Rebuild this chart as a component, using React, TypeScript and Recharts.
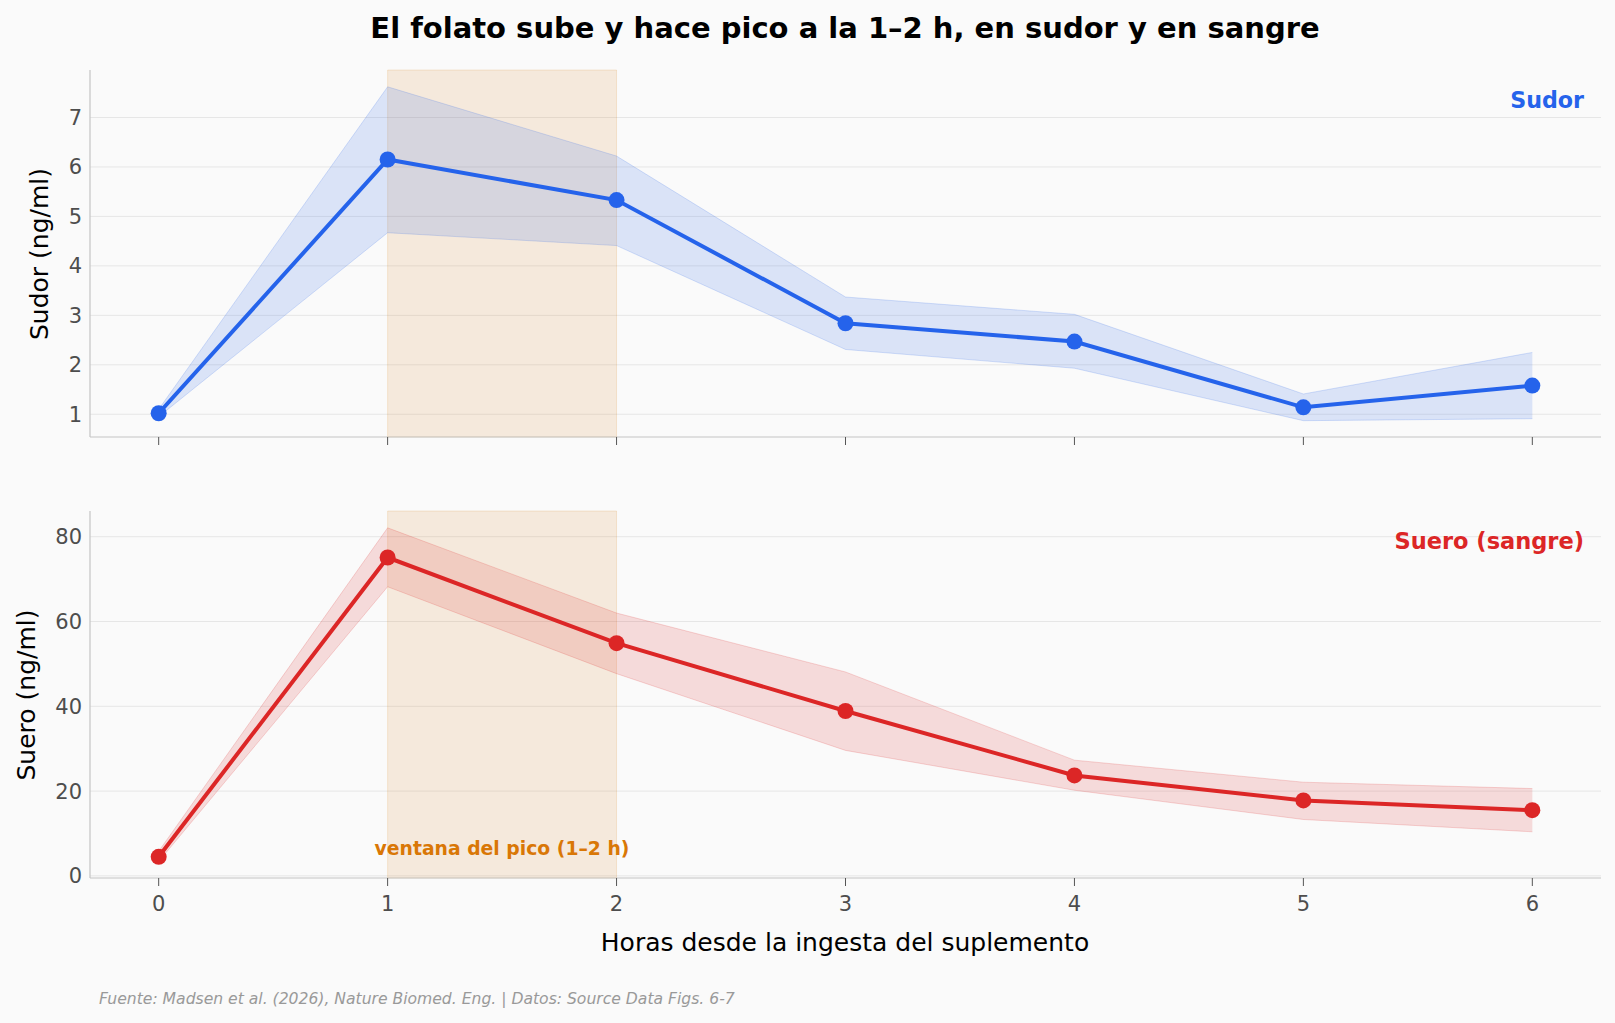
import React from "react";
import {
  ComposedChart,
  Area,
  Line,
  XAxis,
  YAxis,
  CartesianGrid,
  ReferenceArea,
} from "recharts";

// Hours after taking the supplement
const hours = [0, 1, 2, 3, 4, 5, 6];

// Sweat folate (ng/ml): mean and shaded band
const sweatMean = [1.02, 6.15, 5.33, 2.84, 2.47, 1.14, 1.58];
const sweatLow = [0.95, 4.67, 4.41, 2.31, 1.93, 0.87, 0.91];
const sweatHigh = [1.1, 7.62, 6.22, 3.37, 3.02, 1.41, 2.25];

// Serum folate (ng/ml): mean and shaded band
const serumMean = [4.5, 75.1, 54.9, 38.9, 23.7, 17.8, 15.5];
const serumLow = [3.4, 68.2, 47.7, 29.6, 20.2, 13.3, 10.4];
const serumHigh = [5.8, 82.1, 62.0, 48.1, 27.3, 22.1, 20.6];

const hourTicks = [0, 1, 2, 3, 4, 5, 6];
const sweatTicks = [1, 2, 3, 4, 5, 6, 7];
const serumTicks = [0, 20, 40, 60, 80];

const peakWindow = [1, 2];

const BLUE = "#2563eb";
const RED = "#dc2626";
const ORANGE = "#d97706";
const BG = "#fafafa";
const FONT = "'DejaVu Sans', sans-serif";

const sweatData = hours.map((h, i) => ({
  h,
  mean: sweatMean[i],
  band: [sweatLow[i], sweatHigh[i]],
}));

const serumData = hours.map((h, i) => ({
  h,
  mean: serumMean[i],
  band: [serumLow[i], serumHigh[i]],
}));

const tickStyle = { fill: "#4d4d4d", fontSize: 21, fontFamily: FONT };

function Panel({
  data,
  color,
  domain,
  ticks,
  height,
  marginTop,
  xAxisHeight,
  showXLabels,
}: {
  data: any[];
  color: string;
  domain: [number, number];
  ticks: number[];
  height: number;
  marginTop: number;
  xAxisHeight: number;
  showXLabels: boolean;
}) {
  return (
    <ComposedChart
      width={1615}
      height={height}
      data={data}
      margin={{ top: marginTop, right: 14, bottom: 0, left: 0 }}
    >
      <ReferenceArea
        x1={peakWindow[0]}
        x2={peakWindow[1]}
        fill={ORANGE}
        fillOpacity={0.12}
        stroke={ORANGE}
        strokeOpacity={0.15}
      />
      <CartesianGrid
        vertical={false}
        horizontalValues={ticks}
        stroke="#e6e6e6"
        strokeWidth={1}
      />
      <XAxis
        dataKey="h"
        type="number"
        domain={[-0.3, 6.3]}
        ticks={hourTicks}
        allowDataOverflow
        height={xAxisHeight}
        axisLine={{ stroke: "#c4c4c4", strokeWidth: 1.2 }}
        tickLine={{ stroke: "#555", strokeWidth: 1 }}
        tickSize={8}
        tickMargin={10}
        tick={tickStyle}
        tickFormatter={(v: number) => (showXLabels ? String(v) : "")}
      />
      <YAxis
        type="number"
        domain={domain}
        ticks={ticks}
        allowDataOverflow
        width={90}
        axisLine={{ stroke: "#c4c4c4", strokeWidth: 1.2 }}
        tickLine={false}
        tickSize={0}
        tickMargin={8}
        tick={tickStyle}
      />
      <Area
        type="linear"
        dataKey="band"
        fill={color}
        fillOpacity={0.15}
        stroke={color}
        strokeOpacity={0.18}
        strokeWidth={1}
        isAnimationActive={false}
        activeDot={false}
      />
      <Line
        type="linear"
        dataKey="mean"
        stroke={color}
        strokeWidth={4}
        dot={{ r: 8, fill: color, stroke: color, strokeWidth: 0 }}
        activeDot={false}
        isAnimationActive={false}
      />
    </ComposedChart>
  );
}

export default function App() {
  return (
    <div
      style={{
        position: "absolute",
        left: 0,
        top: 0,
        width: 1615,
        height: 1023,
        background: BG,
        overflow: "hidden",
      }}
    >
      <div style={{ position: "absolute", left: 0, top: 0 }}>
        <Panel
          data={sweatData}
          color={BLUE}
          domain={[0.54, 7.96]}
          ticks={sweatTicks}
          height={480}
          marginTop={70}
          xAxisHeight={43}
          showXLabels={false}
        />
      </div>
      <div style={{ position: "absolute", left: 0, top: 440 }}>
        <Panel
          data={serumData}
          color={RED}
          domain={[-0.5, 86.07]}
          ticks={serumTicks}
          height={583}
          marginTop={71}
          xAxisHeight={145}
          showXLabels={true}
        />
      </div>
      <svg
        width={1615}
        height={1023}
        style={{ position: "absolute", left: 0, top: 0, pointerEvents: "none" }}
        fontFamily={FONT}
      >
        <text
          x={845}
          y={28}
          textAnchor="middle"
          dominantBaseline="central"
          fontSize={29}
          fontWeight="bold"
          fill="#000"
        >
          El folato sube y hace pico a la 1–2 h, en sudor y en sangre
        </text>
        <text
          transform="translate(39,254) rotate(-90)"
          textAnchor="middle"
          dominantBaseline="central"
          fontSize={25}
          fill="#000"
        >
          Sudor (ng/ml)
        </text>
        <text
          transform="translate(26,695) rotate(-90)"
          textAnchor="middle"
          dominantBaseline="central"
          fontSize={25}
          fill="#000"
        >
          Suero (ng/ml)
        </text>
        <text
          x={845}
          y={942}
          textAnchor="middle"
          dominantBaseline="central"
          fontSize={25}
          fill="#000"
        >
          Horas desde la ingesta del suplemento
        </text>
        <text
          x={1584}
          y={100}
          textAnchor="end"
          dominantBaseline="central"
          fontSize={22.2}
          fontWeight="bold"
          fill={BLUE}
        >
          Sudor
        </text>
        <text
          x={1584}
          y={541}
          textAnchor="end"
          dominantBaseline="central"
          fontSize={22.5}
          fontWeight="bold"
          fill={RED}
        >
          Suero (sangre)
        </text>
        <text
          x={502}
          y={848}
          textAnchor="middle"
          dominantBaseline="central"
          fontSize={18.8}
          fontWeight="bold"
          fill={ORANGE}
        >
          ventana del pico (1–2 h)
        </text>
        <text
          x={99}
          y={999}
          dominantBaseline="central"
          fontSize={15.6}
          fontStyle="italic"
          fill="#999"
        >
          Fuente: Madsen et al. (2026), Nature Biomed. Eng. | Datos: Source Data Figs. 6-7
        </text>
      </svg>
    </div>
  );
}
